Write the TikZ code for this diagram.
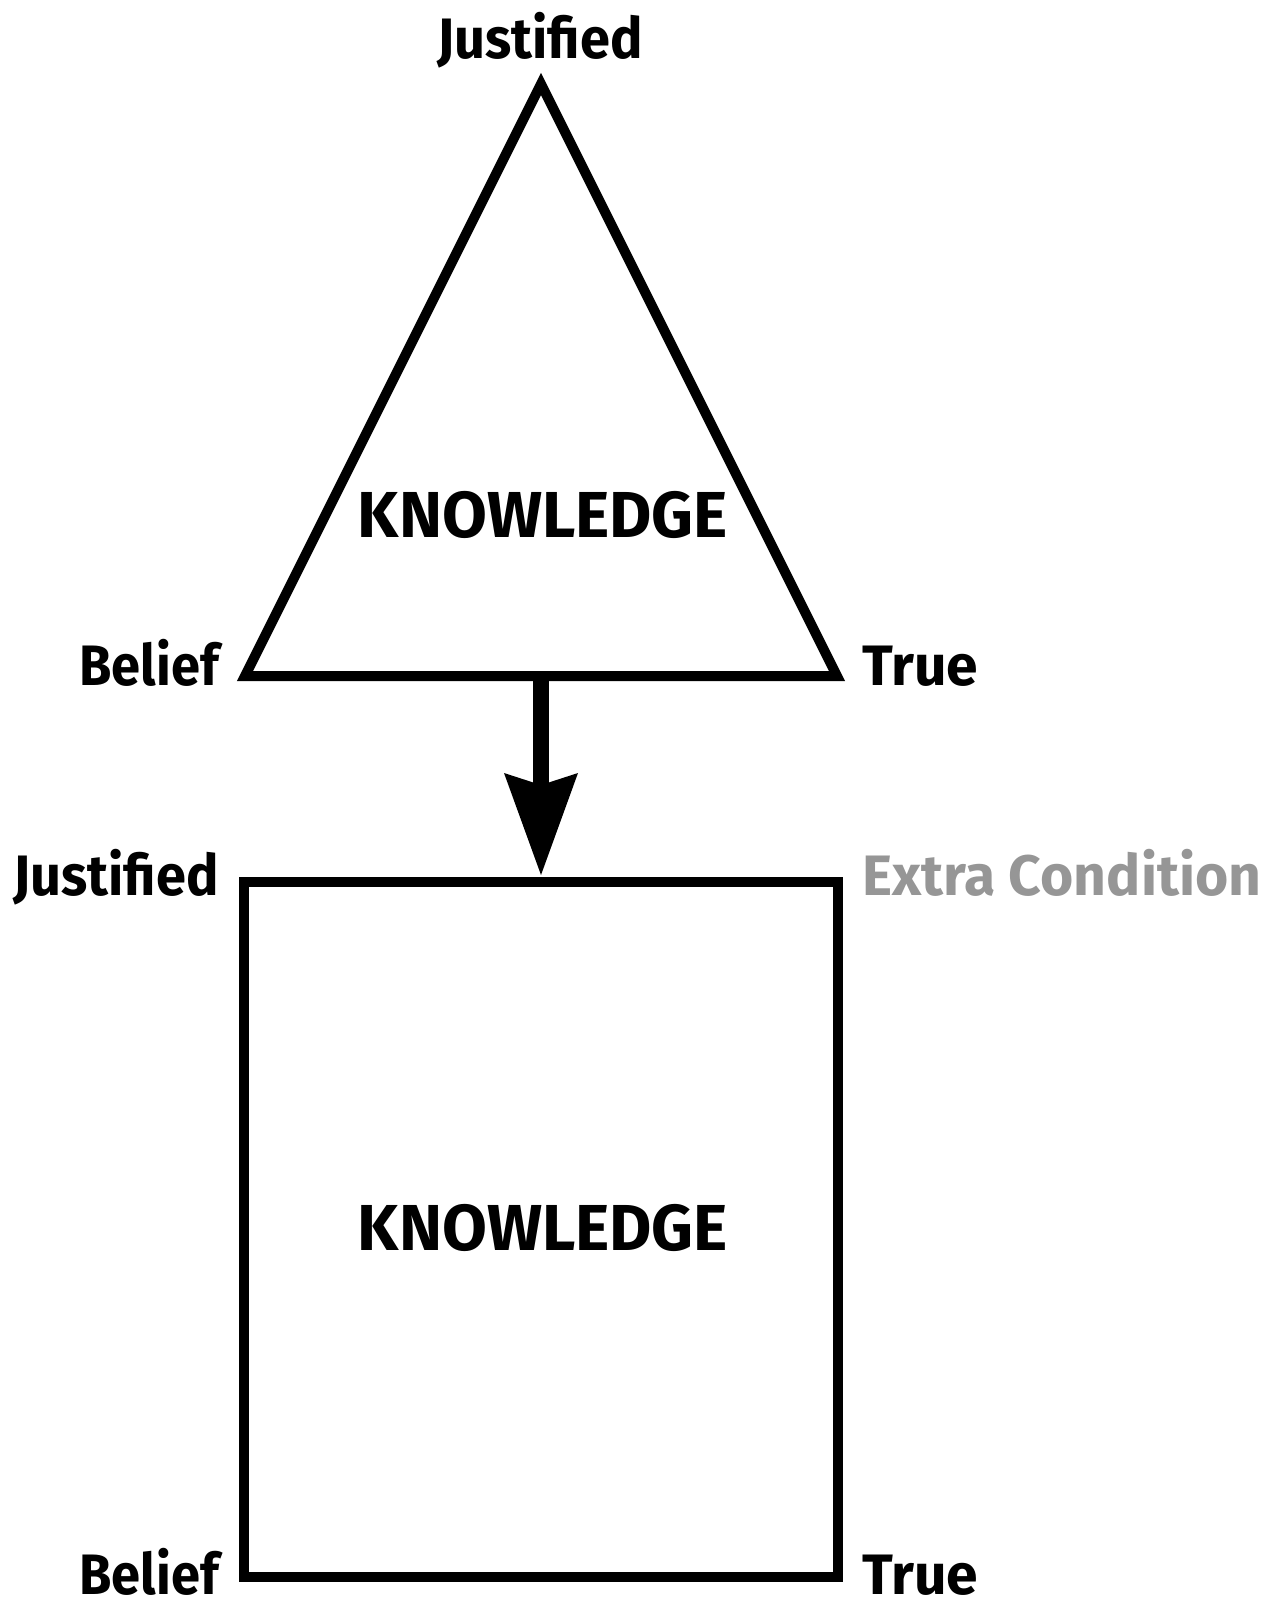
\documentclass[tikz,border=0pt]{standalone}
\usepackage{fontspec}
\setmainfont{Fira Sans}
\usetikzlibrary{arrows.meta,positioning}
\definecolor{extragray}{RGB}{150,150,150}

\begin{document}
\begin{tikzpicture}[x=1pt,y=-1pt,line join=miter]
\tikzstyle{lbl}=[font=\fontsize{57}{57}\selectfont\bfseries, inner sep=0pt]
\tikzstyle{big}=[font=\fontsize{65}{65}\selectfont\bfseries, inner sep=0pt]
\tikzstyle{edge}=[line width=10pt]
\useasboundingbox (0,0) rectangle (1274,1610);
% corners of the two shapes
\coordinate (apex) at (541,84);
\coordinate (bl1) at (245,676);
\coordinate (tr1) at (837,676);
\coordinate (bl2) at (244,1577);
\coordinate (tr2) at (838,882);
\coordinate (base) at (541,676);
\coordinate (top) at (541,875);
\draw[edge] (apex) -- (bl1) -- (tr1) -- cycle;
\draw[edge] (bl2) rectangle (tr2);
\draw[line width=16pt, -{Stealth[length=102pt,width=74pt,inset=12pt,line width=0pt]}] (base) -- (top);
% labels
\node[lbl, anchor=base] (j1) at (540,58) {\scalebox{0.95}[1]{Justified}};
\node[big, anchor=base] (k1) at (543,537) {KNOWLEDGE};
\node[big, anchor=base] (k2) at (543,1250) {KNOWLEDGE};
\node[lbl, anchor=base east] (j2) at (219,895) {\scalebox{0.95}[1]{Justified}};
\node[lbl, anchor=base west, text=extragray] (ex) at (862,895) {Extra Condition};
\foreach \y/\n in {685/1,1594/2}
   {
    \node[lbl, text depth=0pt, anchor=base east] (b\n) at (219,\y) {\scalebox{0.92}[1]{Belief}};
    \node[lbl, text depth=0pt, anchor=base west] (t\n) at (862,\y) {True};
   }
\end{tikzpicture}
\end{document}
